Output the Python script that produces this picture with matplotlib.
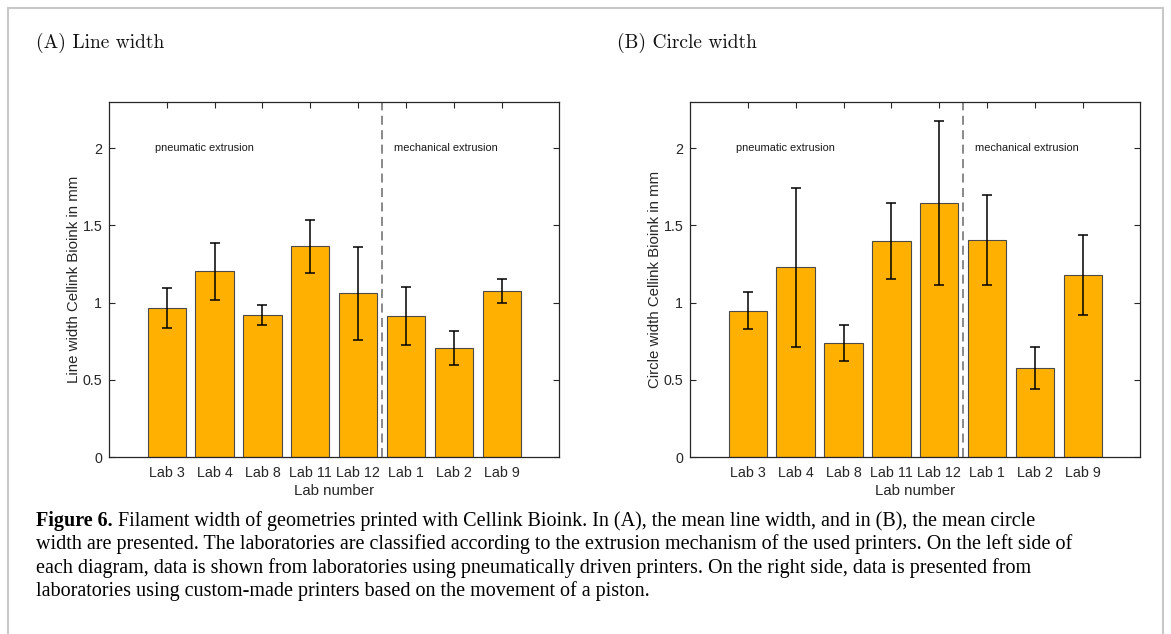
import matplotlib.pyplot as plt
from matplotlib.patches import Rectangle
from matplotlib.text import Annotation

# data
labs = ['Lab 3', 'Lab 4', 'Lab 8', 'Lab 11', 'Lab 12', 'Lab 1', 'Lab 2', 'Lab 9']
line_mean = [0.964, 1.202, 0.919, 1.366, 1.061, 0.915, 0.708, 1.074]
line_err = [0.130, 0.185, 0.065, 0.171, 0.301, 0.189, 0.110, 0.077]
circle_mean = [0.949, 1.228, 0.738, 1.398, 1.644, 1.405, 0.576, 1.178]
circle_err = [0.119, 0.515, 0.116, 0.245, 0.528, 0.293, 0.135, 0.258]

BAR = '#ffb000'
DARK = '#262626'
SANS = ['Liberation Sans', 'DejaVu Sans']

fig = plt.figure(figsize=(11.71, 6.34), dpi=100)

# page frame
fig.add_artist(Rectangle((8 / 1171, -0.1), 1155 / 1171, 1.1 - 8 / 634,
                         transform=fig.transFigure, fill=False,
                         edgecolor='#c8c8c8', linewidth=1.5))


def panel(left, means, errs, ylabel, title):
  ax = fig.add_axes([left, 0.2787, 0.3843, 0.5609])
  x = list(range(1, len(labs) + 1))
  ax.bar(x, means, width=0.8, color=BAR, edgecolor='#4a4a4a', linewidth=0.8,
         zorder=2)
  ax.errorbar(x, means, yerr=errs, fmt='none', ecolor='black', elinewidth=1.1,
              capsize=3.4, capthick=1.1, zorder=3)
  ax.axvline(5.5, color='#808080', linestyle=(0, (5, 3)), linewidth=1.3,
             zorder=1)
  ax.set_xlim(-0.2, 9.2)
  ax.set_ylim(0, 2.3)
  ax.set_xticks(x)
  ax.set_xticklabels(labs)
  ax.set_yticks([0, 0.5, 1, 1.5, 2])
  ax.set_yticklabels(['0', '0.5', '1', '1.5', '2'])
  ax.tick_params(direction='in', top=True, right=True, length=4,
                 width=0.8, color=DARK, labelcolor=DARK, labelsize=10.3)
  ax.tick_params(axis='x', pad=6)
  ax.tick_params(axis='y', pad=5)
  for lbl in ax.get_xticklabels() + ax.get_yticklabels():
    lbl.set_family(SANS)
  for s in ax.spines.values():
    s.set_color(DARK)
    s.set_linewidth(0.9)
  ax.set_xlabel('Lab number', family=SANS, fontsize=10.8, color=DARK,
                labelpad=3)
  ax.set_ylabel(ylabel, family=SANS, fontsize=10.8, color=DARK, labelpad=1)
  ax.text(0.75, 2.0, 'pneumatic extrusion', family=SANS, fontsize=7.9,
          color='#1a1a1a', va='center', ha='left')
  ax.text(5.75, 2.0, 'mechanical extrusion', family=SANS, fontsize=7.9,
          color='#1a1a1a', va='center', ha='left')
  fig.text(left - 73 / 1171, 1 - 43 / 634, title, family=['cmr10', 'DejaVu Serif'],
           fontsize=14, va='center', ha='left', color='#111111')
  return ax


panel(0.0933, line_mean, line_err, 'Line width Cellink Bioink in mm',
      '(A) Line width')
panel(0.5895, circle_mean, circle_err, 'Circle width Cellink Bioink in mm',
      '(B) Circle width')

# caption
cap_x = 36 / 1171
first_y = 1 - 531 / 634
serif = ['Liberation Serif', 'DejaVu Serif']
CAP = 14.5
head = fig.text(cap_x, first_y, 'Figure 6.', family=serif, weight='bold',
                fontsize=CAP, va='bottom', ha='left')
fig.add_artist(Annotation(
    ' Filament width of geometries printed with Cellink Bioink. In (A), the '
    'mean line width, and in (B), the mean circle',
    xy=(1, 0), xycoords=head, va='bottom', ha='left', family=serif,
    fontsize=CAP))
rest = [
    'width are presented. The laboratories are classified according to the '
    'extrusion mechanism of the used printers. On the left side of',
    'each diagram, data is shown from laboratories using pneumatically driven '
    'printers. On the right side, data is presented from',
    'laboratories using custom-made printers based on the movement of a piston.',
]
for i, line in enumerate(rest):
  fig.text(cap_x, first_y - (i + 1) * 23.3 / 634, line, family=serif,
           fontsize=CAP, va='bottom', ha='left')

fig.savefig('out.png', dpi=100)
